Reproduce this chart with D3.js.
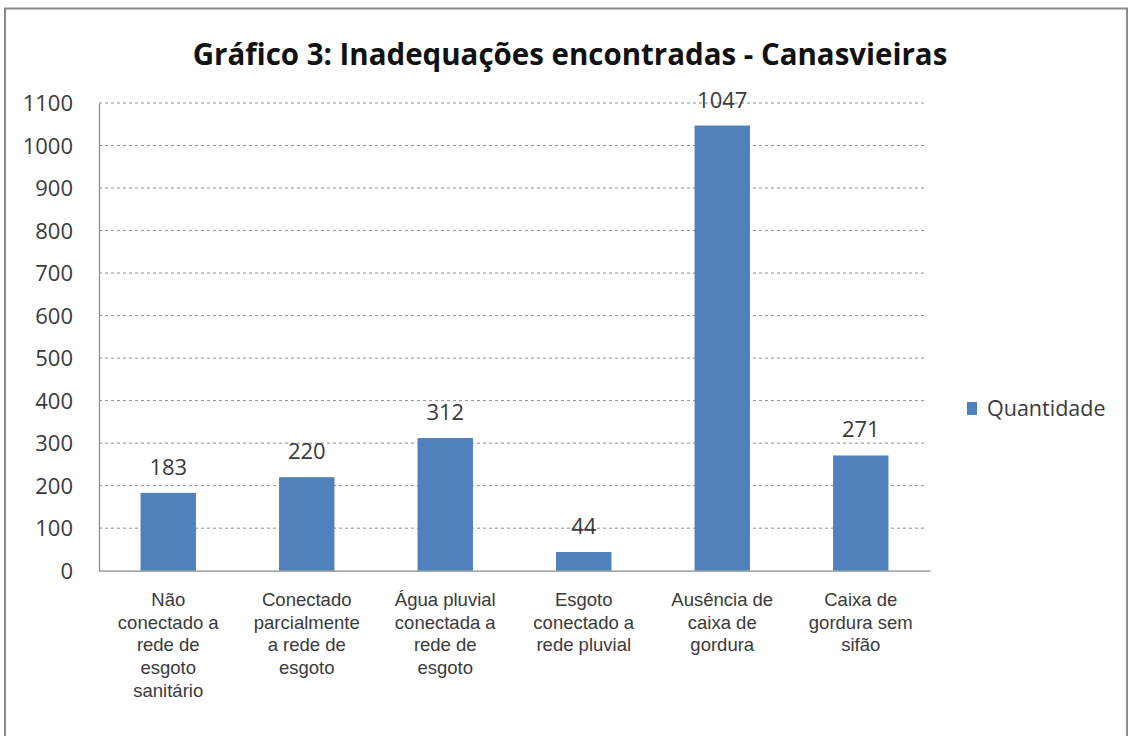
<!DOCTYPE html>
<html><head><meta charset="utf-8">
<script src="https://cdn.jsdelivr.net/npm/d3@7"></script>
<style>
html,body{margin:0;padding:0;background:#fff;}
svg{display:block;font-family:"Open Sans",sans-serif;}
</style></head>
<body>
<svg id="c" width="1130" height="736"></svg>
<script>
const title = "Gráfico 3: Inadequações encontradas - Canasvieiras";
const categories = ["Não conectado a rede de esgoto sanitário","Conectado parcialmente a rede de esgoto","Água pluvial conectada a rede de esgoto","Esgoto conectado a rede pluvial","Ausência de caixa de gordura","Caixa de gordura sem sifão"];
const categoryLines = [
  ["Não","conectado a","rede de","esgoto","sanitário"],
  ["Conectado","parcialmente","a rede de","esgoto"],
  ["Água pluvial","conectada a","rede de","esgoto"],
  ["Esgoto","conectado a","rede pluvial"],
  ["Ausência de","caixa de","gordura"],
  ["Caixa de","gordura sem","sifão"]
];
const values = [183,220,312,44,1047,271];
const seriesName = "Quantidade";
const yTicks = [0,100,200,300,400,500,600,700,800,900,1000,1100];

const svg = d3.select("#c");
const L = 99, R = 930, T = 103, B = 570.7;

// frame
svg.append("rect").attr("x",5).attr("y",8.5).attr("width",1122).attr("height",740)
  .attr("fill","#fff").attr("stroke","#8a8a8a").attr("stroke-width",2);

const x = d3.scaleBand().domain(categories).range([L,R]).paddingInner(0.6).paddingOuter(0.3);
const y = d3.scaleLinear().domain([0,1100]).range([B,T]);

// gridlines
svg.append("g").selectAll("line").data(yTicks.filter(d=>d>0)).join("line")
  .attr("x1",L).attr("x2",927).attr("y1",d=>y(d)).attr("y2",d=>y(d))
  .attr("stroke","#8c8c9c").attr("stroke-width",1).attr("stroke-dasharray","3,3");

// y axis
const yAxis = d3.axisLeft(y).tickValues(yTicks).tickSize(0).tickPadding(26).tickFormat(d3.format("d"));
const gy = svg.append("g").attr("transform",`translate(${L},0)`).call(yAxis);
gy.select(".domain").attr("stroke","#8a8a8a").attr("stroke-width",1.2);
gy.selectAll("text").attr("font-family","Open Sans").attr("font-size",22).attr("fill","#3a3a3a").attr("dy","0.35em");

// bars
svg.append("g").selectAll("rect").data(values).join("rect")
  .attr("x",(d,i)=>x(categories[i])).attr("width",x.bandwidth())
  .attr("y",d=>y(d)).attr("height",d=>B-y(d)).attr("fill","#4f81bd");

// x axis
const gx = svg.append("g").attr("transform",`translate(0,${B})`).call(d3.axisBottom(x).tickSize(0).tickFormat(""));
gx.select(".domain").attr("stroke","#8a8a8a").attr("stroke-width",1.2);

// x labels
const xl = svg.append("g");
categories.forEach((c,i)=>{
  const cx = x(c)+x.bandwidth()/2;
  categoryLines[i].forEach((ln,j)=>{
    xl.append("text").attr("text-anchor","middle").attr("font-family","Liberation Sans")
      .attr("font-size",18.5).attr("fill","#3a3a3a")
      .attr("x",cx).attr("y",606+j*22.7).text(ln);
  });
});

// value labels
svg.append("g").selectAll("text").data(values).join("text")
  .attr("x",(d,i)=>x(categories[i])+x.bandwidth()/2).attr("y",d=>y(d)-18)
  .attr("text-anchor","middle").attr("font-size",22).attr("fill","#3a3a3a").text(d=>d);

// title
const tt = svg.append("text").attr("x",570).attr("y",65).attr("text-anchor","middle")
  .attr("font-weight","bold").attr("font-size",26).attr("fill","#111").text(title);
const tw = tt.node().getComputedTextLength();
tt.attr("font-size",26*755/tw);

// legend
svg.append("rect").attr("x",967).attr("y",402).attr("width",10).attr("height",13).attr("fill","#4f81bd");
svg.append("text").attr("x",987).attr("y",416).attr("font-size",21.5).attr("fill","#3a3a3a").text(seriesName);
</script>
</body></html>
